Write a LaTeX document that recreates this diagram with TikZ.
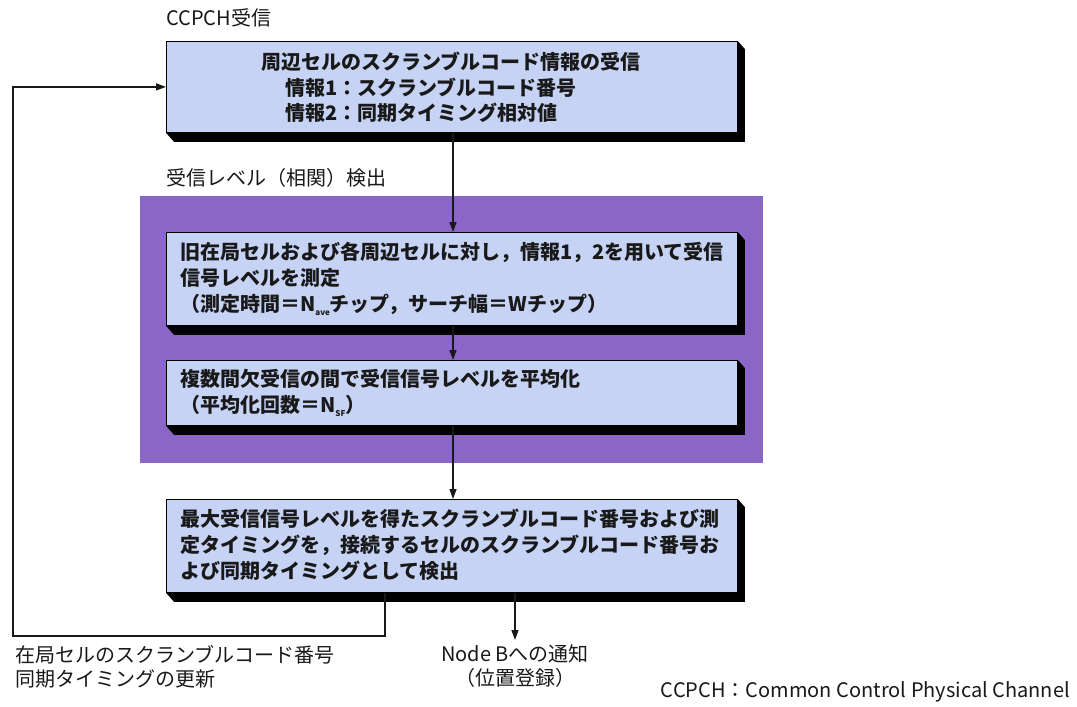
\documentclass[tikz,border=0pt]{standalone}
\usepackage{fontspec}
\newfontfamily\jp{Noto Sans CJK JP}
\usetikzlibrary{arrows.meta}
\definecolor{boxfill}{RGB}{198,211,245}
\definecolor{purp}{RGB}{138,102,198}
\definecolor{ink}{RGB}{25,25,25}
\newcommand\sbs[1]{\raisebox{-0.35ex}{\fontsize{8}{8}\selectfont #1}}
\newcommand\slab[1]{\fill[black] (#1.south west) -- ++(8,9) -- ([shift={(7,9)}]#1.south east) -- ([shift={(7,8)}]#1.north east) -- (#1.north east) -- (#1.south east) -- cycle;}
\begin{document}
\begin{tikzpicture}[x=1pt,y=-1pt,
  box/.style={draw=black, line width=0.8pt, fill=boxfill, anchor=north west, inner sep=0pt, minimum width=571pt},
  conn/.style={line width=1.4pt, draw=ink, -{Triangle[length=10pt,width=7pt]}},
  bt/.style={font=\jp\bfseries\fontsize{20}{26}\selectfont, text=ink, align=left, inner sep=0pt},
  lbl/.style={font=\jp\fontsize{20}{24}\selectfont, text=ink, inner sep=0pt}]
\useasboundingbox (0,0) rectangle (1077,707);
\fill[white] (0,0) rectangle (1077,707);
% group background
\node[fill=purp, anchor=north west, minimum width=623pt, minimum height=267pt, inner sep=0pt] (grp) at (140,196) {};
% boxes
\node[box, minimum height=91pt] (b1) at (166,41) {};
\node[box, minimum height=93pt] (b2) at (166,232) {};
\node[box, minimum height=65pt] (b3) at (166,360) {};
\node[box, minimum height=93pt] (b4) at (166,499) {};
\slab{b1}\slab{b2}\slab{b3}\slab{b4}
% box texts
\node[bt, anchor=center] (t1a) at (451,62) {周辺セルのスクランブルコード情報の受信};
\node[bt, anchor=west] (t1b) at (285,88) {情報1：スクランブルコード番号};
\node[bt, anchor=west] (t1c) at (285,113) {情報2：同期タイミング相対値};
\node[bt, anchor=west] (t2) at (180,279) {旧在局セルおよび各周辺セルに対し，情報1，2を用いて受信\\信号レベルを測定\\（測定時間＝N\sbs{ave}チップ，サーチ幅＝Wチップ）};
\node[bt, anchor=west] (t3) at (180,393) {複数間欠受信の間で受信信号レベルを平均化\\（平均化回数＝N\sbs{SF}）};
\node[bt, anchor=west] (t4) at (180,545) {最大受信信号レベルを得たスクランブルコード番号および測\\定タイミングを，接続するセルのスクランブルコード番号お\\よび同期タイミングとして検出};
% labels
\node[lbl, anchor=west] (l1) at (166,18) {CCPCH受信};
\node[lbl, anchor=west] (l2) at (166,178) {受信レベル（相関）検出};
\node[lbl, anchor=west, align=left] (l3) at (15,667) {在局セルのスクランブルコード番号\\同期タイミングの更新};
\node[lbl, anchor=north, align=center] (nb) at (515,644) {Node Bへの通知\\（位置登録）};
\node[lbl, anchor=east] (leg) at (1070,692) {CCPCH：Common Control Physical Channel};
% connectors
\coordinate (lp) at (385,636);
\coordinate (lc) at (13,636);
\draw[conn] (b1.south -| 453,0) -- (b2.north -| 453,0);
\draw[conn] (b2.south -| 453,0) -- (b3.north -| 453,0);
\draw[conn] (b3.south -| 453,0) -- (b4.north -| 453,0);
\draw[conn] (b4.south -| lp) -- (lp) -- (lc) -- (lc |- b1.west) -- (b1.west);
\draw[conn, shorten >=4pt] (b4.south -| nb) -- (nb.north);
\end{tikzpicture}
\end{document}
